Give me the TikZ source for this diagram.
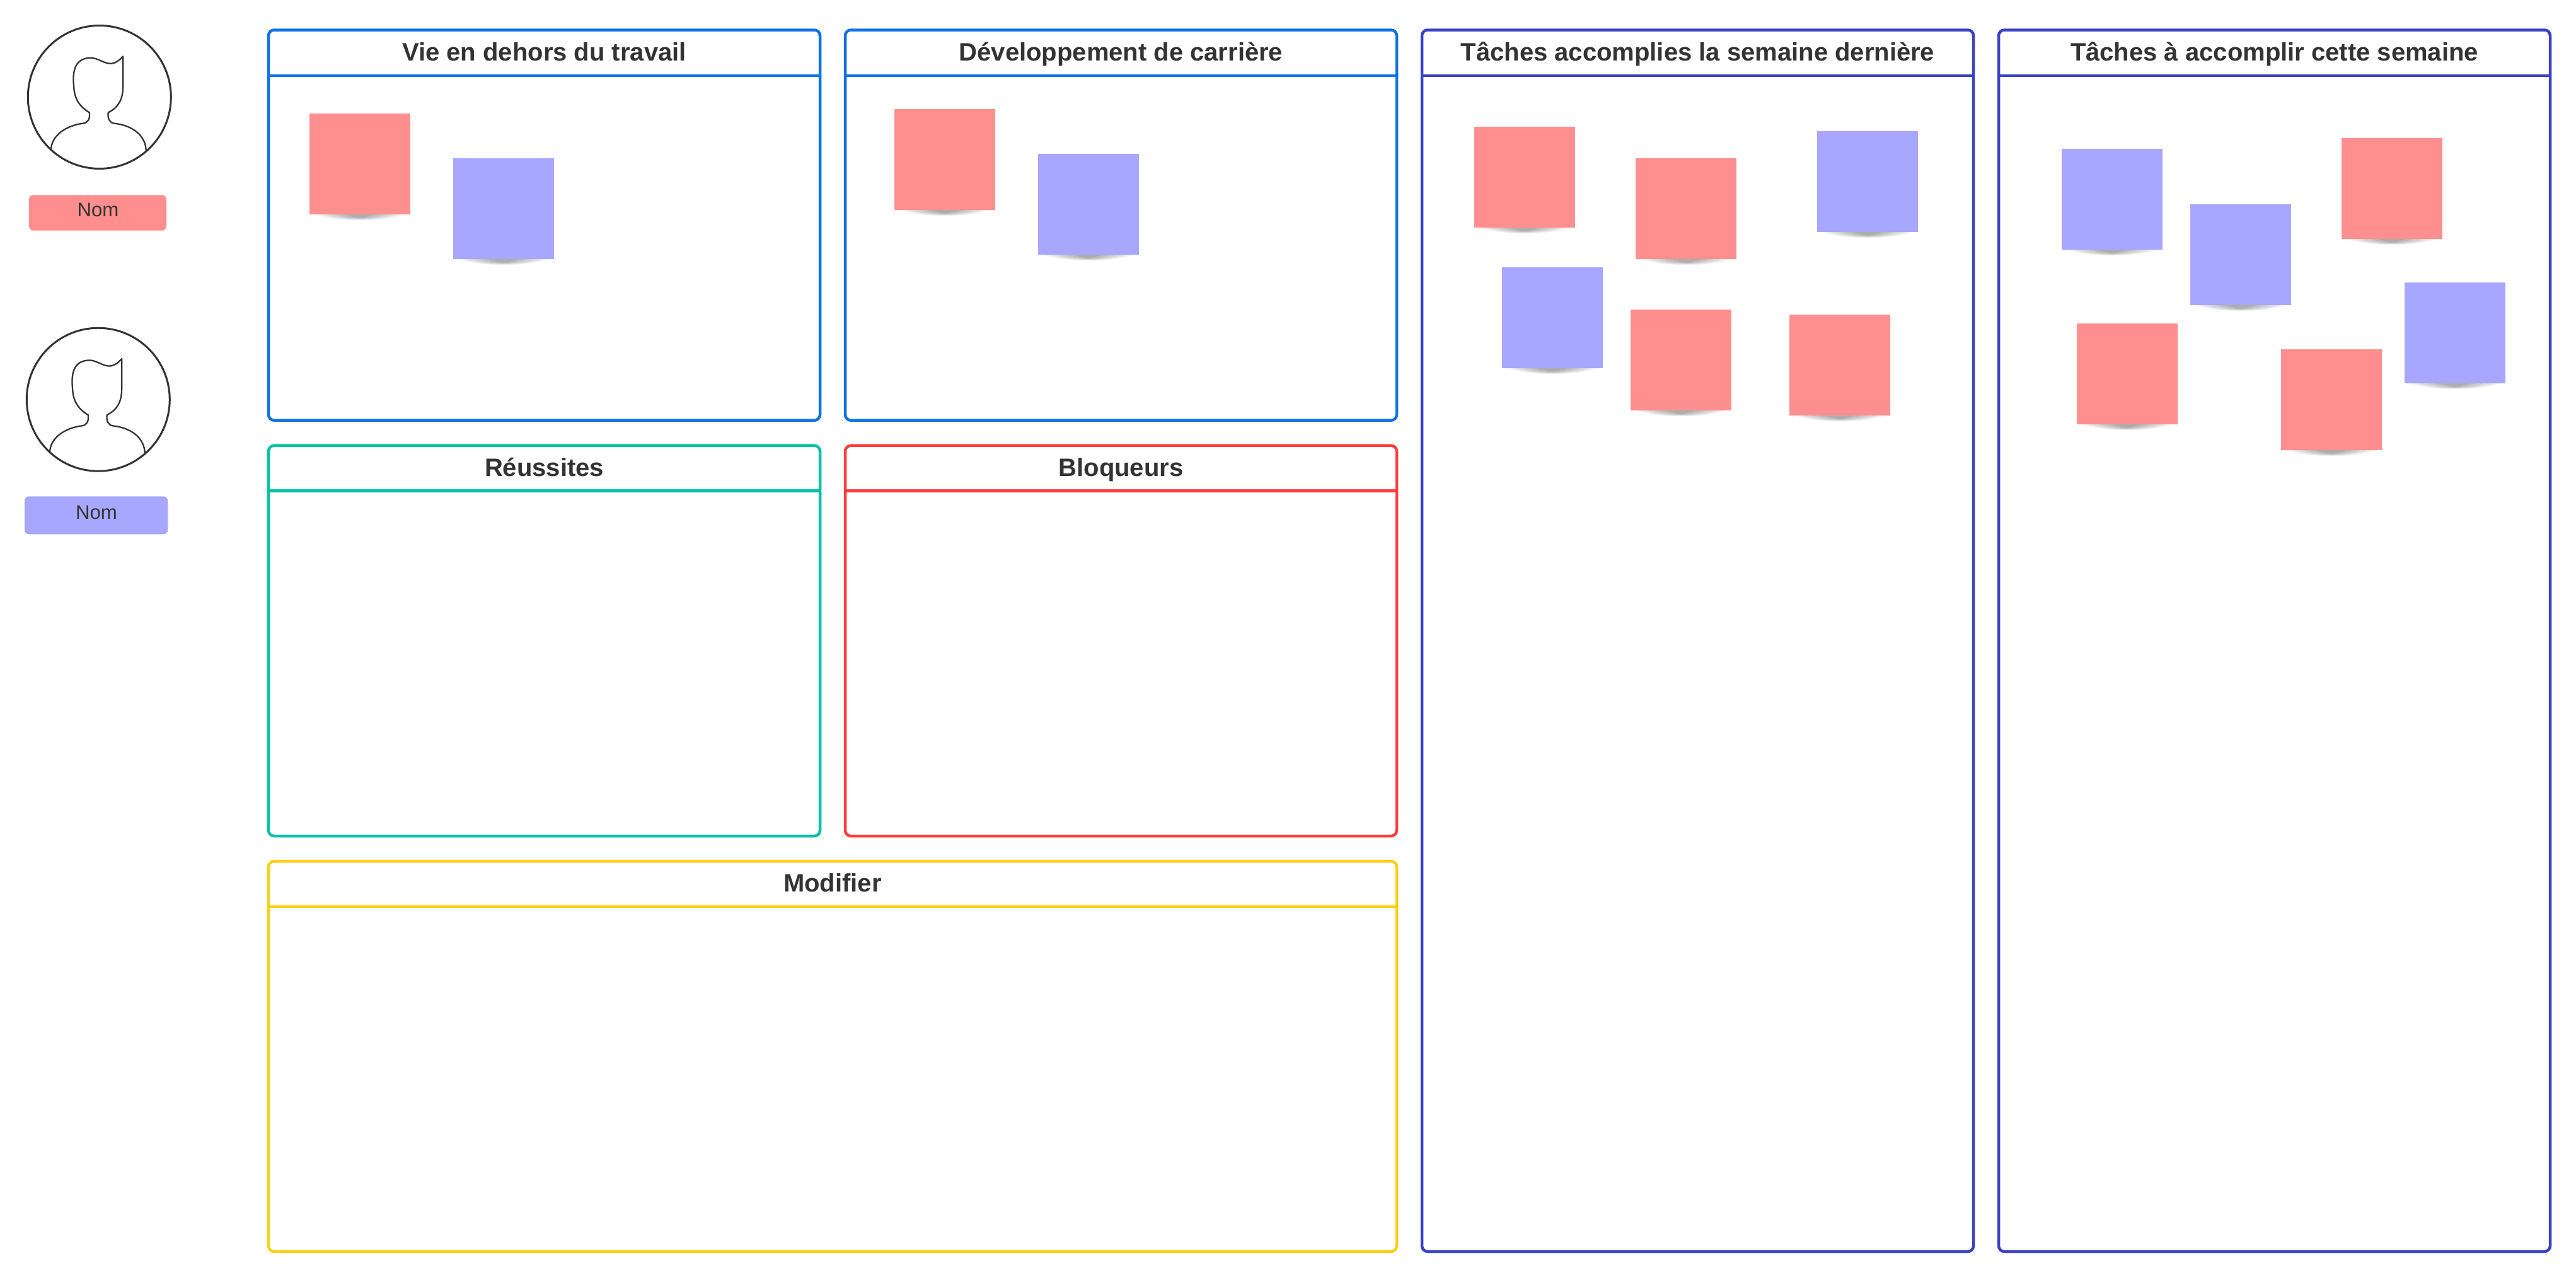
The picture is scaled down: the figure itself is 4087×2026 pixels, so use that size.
\documentclass[tikz,border=0pt]{standalone}
\usepackage{fontspec}
\setmainfont{Liberation Sans}
\definecolor{inkgray}{HTML}{333333}
\definecolor{notered}{HTML}{FF8F8F}
\definecolor{noteblue}{HTML}{A7A7FF}
\definecolor{frameblue}{HTML}{1071E5}
\definecolor{frameteal}{HTML}{00C2A8}
\definecolor{framered}{HTML}{FF3D3D}
\definecolor{frameyellow}{HTML}{FCCE14}
\definecolor{frameindigo}{HTML}{3A41C6}
\tikzset{
  boardframe/.style={draw=#1,line width=2.25pt,rounded corners=4.5pt,rectangle,inner sep=0pt,outer sep=0pt,anchor=north west},
  boardtitle/.style={anchor=base,text=inkgray,inner sep=0pt,font=\fontsize{20}{24}\selectfont\bfseries},
  notebox/.style={fill=#1,rectangle,inner sep=0pt,outer sep=0pt,anchor=north west,minimum width=80pt,minimum height=80pt},
  namepill/.style={fill=#1,rectangle,rounded corners=3.5pt,inner sep=0pt,outer sep=0pt,anchor=north west},
  nametext/.style={anchor=base,text=inkgray,inner sep=0pt,font=\fontsize{15.6}{18}\selectfont},
  avatarring/.style={draw=inkgray,line width=1.5pt,circle,inner sep=0pt,outer sep=0pt,minimum size=113.5pt},
  avatarline/.style={draw=inkgray,line width=1.15pt,line join=round}
}
% name, colour, x1, y1, x2, y2, header height, title
\newcommand{\boardpanel}[8]{
  \node[boardframe=#2,minimum width={(#5-#3)*0.5pt},minimum height={(#6-#4)*0.5pt}] (#1) at (#3,#4) {};
  \coordinate (#1hl) at (#3,#4+#7);
  \coordinate (#1hr) at (#5,#4+#7);
  \draw[#2,line width=2.25pt] (#1hl) -- (#1hr);
  \node[boardtitle] (#1title) at ({(#3+#5)/2},#4+48.5) {#8};
}
% name, colour, x, y
\newcommand{\stickynote}[4]{
  \begin{scope}[shift={(#3,#4)}]
    \foreach \i/\d/\o in {0/13/0.05,8/12/0.06,16/11/0.06,26/10/0.07,36/9/0.07,46/8/0.07}{
      \fill[black,opacity=\o] (8+\i,159.5) .. controls (40+\i,159.5+\d) and (120-\i,159.5+\d) .. (152-\i,159.5) -- cycle;
    }
    \node[notebox=#2] (#1) at (0,0) {};
  \end{scope}
}
% name, cx, cy
\newcommand{\avatar}[3]{
  \node[avatarring] (#1) at (#2,#3) {};
  \begin{scope}[shift={(#1.center)},x=0.16667pt,y=-0.16667pt]
    \draw[avatarline] (-230,250) .. controls (-230,185) and (-160,135) .. (-78,125)
      .. controls (-55,122) and (-44,105) .. (-48,73)
      .. controls (-90,50) and (-120,10) .. (-122,-50)
      .. controls (-128,-110) and (-125,-185) .. (-43,-187)
      .. controls (-5,-187) and (25,-155) .. (60,-160)
      .. controls (80,-162) and (100,-180) .. (112,-194)
      -- (112,-50)
      .. controls (112,10) and (90,50) .. (42,73)
      .. controls (38,100) and (47,122) .. (70,125)
      .. controls (160,135) and (222,185) .. (222,258);
  \end{scope}
}
\begin{document}
\begin{tikzpicture}[x=0.5pt,y=-0.5pt]
\useasboundingbox (0,0) rectangle (4087,2026);
% avatars
\avatar{avatarA}{157.8}{154}
\avatar{avatarB}{155.8}{633.7}
\node[namepill=notered,minimum width=109pt,minimum height=28.2pt] (pillA) at (46,309.3) {};
\node[nametext] (pillAtext) at (155.5,343.3) {Nom};
\node[namepill=noteblue,minimum width=113.7pt,minimum height=30pt] (pillB) at (39,787.3) {};
\node[nametext] (pillBtext) at (153,823.3) {Nom};
% boards
\boardpanel{vie}{frameblue}{426}{47.5}{1301}{666.7}{72.5}{Vie en dehors du travail}
\boardpanel{dev}{frameblue}{1341}{47.5}{2216}{666.7}{72.5}{Développement de carrière}
\boardpanel{reu}{frameteal}{426}{706.7}{1301}{1326}{72}{Réussites}
\boardpanel{blo}{framered}{1341}{706.7}{2216}{1326}{72}{Bloqueurs}
\boardpanel{mod}{frameyellow}{426}{1366}{2216}{1985}{72}{Modifier}
\boardpanel{last}{frameindigo}{2256}{47.5}{3131}{1985}{72.5}{Tâches accomplies la semaine dernière}
\boardpanel{next}{frameindigo}{3171}{47.5}{4046}{1985}{72.5}{Tâches à accomplir cette semaine}
% notes
\stickynote{n1}{notered}{491}{180}
\stickynote{n2}{noteblue}{719}{251}
\stickynote{n3}{notered}{1419}{173}
\stickynote{n4}{noteblue}{1647}{244}
\stickynote{n5}{notered}{2339}{201}
\stickynote{n6}{notered}{2595}{251}
\stickynote{n7}{noteblue}{2883}{208}
\stickynote{n8}{noteblue}{2383}{424}
\stickynote{n9}{notered}{2587}{491}
\stickynote{n10}{notered}{2839}{499}
\stickynote{n11}{noteblue}{3271}{236}
\stickynote{n12}{noteblue}{3475}{324}
\stickynote{n13}{notered}{3715}{219}
\stickynote{n14}{noteblue}{3815}{448}
\stickynote{n15}{notered}{3295}{513}
\stickynote{n16}{notered}{3619}{554}
\end{tikzpicture}
\end{document}
